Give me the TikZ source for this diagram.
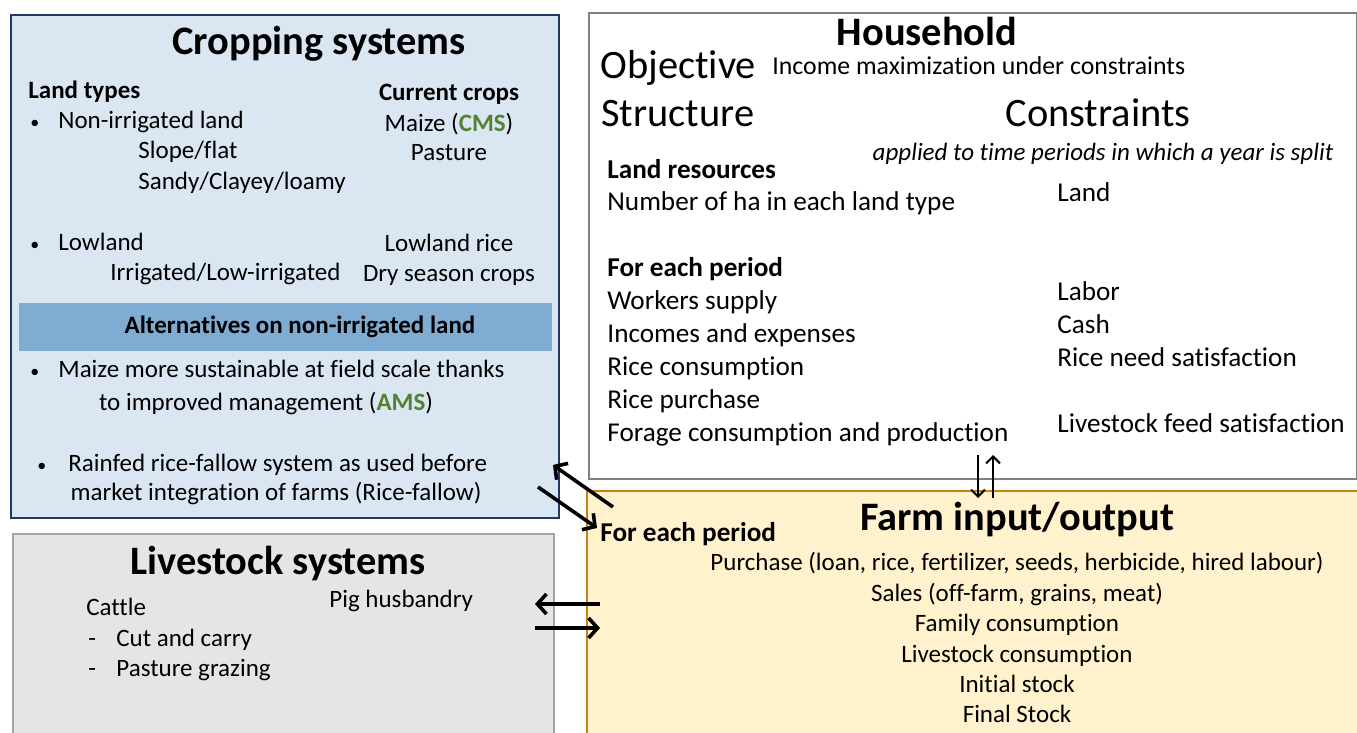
\documentclass[tikz,border=0pt]{standalone}
\usepackage{fontspec}
\setmainfont{Carlito}[Ligatures=NoCommon]
\usepackage{xcolor}
\usepackage{tikz}
\usetikzlibrary{arrows.meta,positioning}

\definecolor{cropfill}{RGB}{218,230,241}
\definecolor{cropline}{RGB}{31,56,100}
\definecolor{altfill}{RGB}{126,172,210}
\definecolor{farmfill}{RGB}{255,242,205}
\definecolor{farmline}{RGB}{191,134,20}
\definecolor{livefill}{RGB}{229,229,229}
\definecolor{liveline}{RGB}{165,165,165}
\definecolor{houseline}{RGB}{128,128,128}
\definecolor{acro}{RGB}{84,130,53}

\newcommand{\fnbody}{\fontsize{12.5}{15}\selectfont}
\newcommand{\fnhouse}{\fontsize{13.6}{16}\selectfont}
\newcommand{\fntitle}{\fontsize{20.2}{24}\selectfont}
\newcommand{\dotmark}{{\fontsize{9}{9}\selectfont\textbullet}}

\tikzstyle{blk}=[rectangle, anchor=north west, inner sep=0pt, line width=1pt]
\tikzstyle{txt}=[inner sep=0pt, text height=8pt, text depth=0pt, font=\fnbody, anchor=west]
\tikzstyle{ctxt}=[txt, anchor=center]
\tikzstyle{bld}=[txt, font=\fnbody\bfseries]
\tikzstyle{htxt}=[txt, text height=8.8pt, font=\fnhouse]
\tikzstyle{hbld}=[htxt, font=\fnhouse\bfseries]
\tikzstyle{ttl}=[inner sep=0pt, text height=13pt, text depth=0pt, font=\fntitle\bfseries]
\tikzstyle{big}=[ttl, font=\fntitle, anchor=west]
\tikzstyle{flow}=[-{Straight Barb[length=4.5pt,width=10pt]}, line width=1.8pt]
\tikzstyle{thinflow}=[-{Straight Barb[length=3.5pt,width=7pt]}, line width=1pt]

\begin{document}
\begin{tikzpicture}[x=0.5pt,y=-0.5pt]
\useasboundingbox (0,0) rectangle (1357,733);
\clip (0,0) rectangle (1357,733);

% boxes
\node[blk, draw=cropline, fill=cropfill, minimum width=274pt, minimum height=251.5pt] (crop) at (10,14) {};
\node[blk, fill=altfill, minimum width=266.5pt, minimum height=24pt] (alt) at (18,302) {};
\node[blk, draw=houseline, fill=white, minimum width=384pt, minimum height=233pt] (house) at (588,12) {};
\node[blk, draw=farmline, fill=farmfill, minimum width=387pt, minimum height=127.5pt] (farm) at (586,490) {};
\node[blk, draw=liveline, fill=livefill, minimum width=270.5pt, minimum height=105pt] (live) at (12,533) {};

% cropping systems
\node[ttl] (croptitle) at (319,42) {Cropping systems};
\node[bld] (landtypes) at (28,91) {Land types};
\node[bld, anchor=center] (curcrops) at (449,93) {Current crops};
\node[txt] (b1) at (30,121) {\dotmark};
\node[txt] (nonirr) at (58,121) {Non-irrigated land};
\node[txt] (slope) at (138,151) {Slope/flat};
\node[txt] (sandy) at (138,182) {Sandy/Clayey/loamy};
\node[ctxt] (maize) at (449,124) {Maize (\textcolor{acro}{\bfseries CMS})};
\node[ctxt] (pasture) at (449,153) {Pasture};
\node[txt] (b2) at (30,242) {\dotmark};
\node[txt] (lowland) at (58,242) {Lowland};
\node[txt] (irr) at (110,273) {Irrigated/Low-irrigated};
\node[ctxt] (lrice) at (449,244) {Lowland rice};
\node[ctxt] (dry) at (449,274) {Dry season crops};
\node[bld, anchor=center] (alttitle) at (300,326) {Alternatives on non-irrigated land};
\node[txt] (b3) at (30,370) {\dotmark};
\node[txt] (ams1) at (58,370) {Maize more sustainable at field scale thanks};
\node[ctxt] (ams2) at (266,402) {to improved management (\textcolor{acro}{\bfseries AMS})};
\node[txt] (b4) at (37,463) {\dotmark};
\node[txt] (rf1) at (68,463) {Rainfed rice-fallow system as used before};
\node[ctxt] (rf2) at (276,492) {market integration of farms (Rice-fallow)};

% household
\node[ttl] (housetitle) at (927,33) {Household};
\node[big] (objective) at (600,66) {Objective};
\node[htxt, font=\fontsize{12.9}{15}\selectfont] (income) at (772,66) {Income maximization under constraints};
\node[big] (structure) at (601,114) {Structure};
\node[big, anchor=center] (constr) at (1098,114) {Constraints};
\node[ctxt, font=\fnbody\itshape] (applied) at (1103,153) {applied to time periods in which a year is split};
\node[hbld] (landres) at (607,170) {Land resources};
\node[htxt] (nha) at (607,202) {Number of ha in each land type};
\node[htxt] (cland) at (1057,193) {Land};
\node[hbld] (period1) at (607,268) {For each period};
\node[htxt] (workers) at (607,301) {Workers supply};
\node[htxt] (incomes) at (607,334) {Incomes and expenses};
\node[htxt] (ricecons) at (607,367) {Rice consumption};
\node[htxt] (ricepur) at (607,400) {Rice purchase};
\node[htxt] (forage) at (607,433) {Forage consumption and production};
\node[htxt] (labor) at (1057,292) {Labor};
\node[htxt] (cash) at (1057,325) {Cash};
\node[htxt] (riceneed) at (1057,358) {Rice need satisfaction};
\node[htxt] (feed) at (1057,424) {Livestock feed satisfaction};

% farm input/output
\node[ttl] (farmtitle) at (1017,517) {Farm input/output};
\node[hbld] (period2) at (600,533) {For each period};
\node[ctxt] (purchase) at (1017,562) {Purchase (loan, rice, fertilizer, seeds, herbicide, hired labour)};
\node[ctxt] (sales) at (1017,593) {Sales (off-farm, grains, meat)};
\node[ctxt] (famcons) at (1017,623) {Family consumption};
\node[ctxt] (livecons) at (1017,654) {Livestock consumption};
\node[ctxt] (initial) at (1017,684) {Initial stock};
\node[ctxt] (final) at (1017,714) {Final Stock};

% livestock systems
\node[ttl] (livetitle) at (278,561) {Livestock systems};
\node[txt] (cattle) at (86,607) {Cattle};
\node[txt] (d1) at (88,638) {-};
\node[txt] (cut) at (116,638) {Cut and carry};
\node[txt] (d2) at (88,668) {-};
\node[txt] (graze) at (116,668) {Pasture grazing};
\node[txt] (pig) at (329,599) {Pig husbandry};

% exchanges
\coordinate (cf1) at (613,507);
\coordinate (cf2) at (553,465);
\coordinate (cf3) at (538,487);
\coordinate (cf4) at (597,528);
\coordinate (lf1) at (600,604);
\coordinate (lf2) at (535,604);
\coordinate (lf3) at (535,628);
\coordinate (lf4) at (600,628);
\coordinate (hf1) at (978,455);
\coordinate (hf2) at (978,498);
\coordinate (hf3) at (993,498);
\coordinate (hf4) at (993,455);
\draw[flow] (cf1) -- (cf2);
\draw[flow] (cf3) -- (cf4);
\draw[flow] (lf1) -- (lf2);
\draw[flow] (lf3) -- (lf4);
\draw[thinflow] (hf1) -- (hf2);
\draw[thinflow] (hf3) -- (hf4);
\end{tikzpicture}
\end{document}
